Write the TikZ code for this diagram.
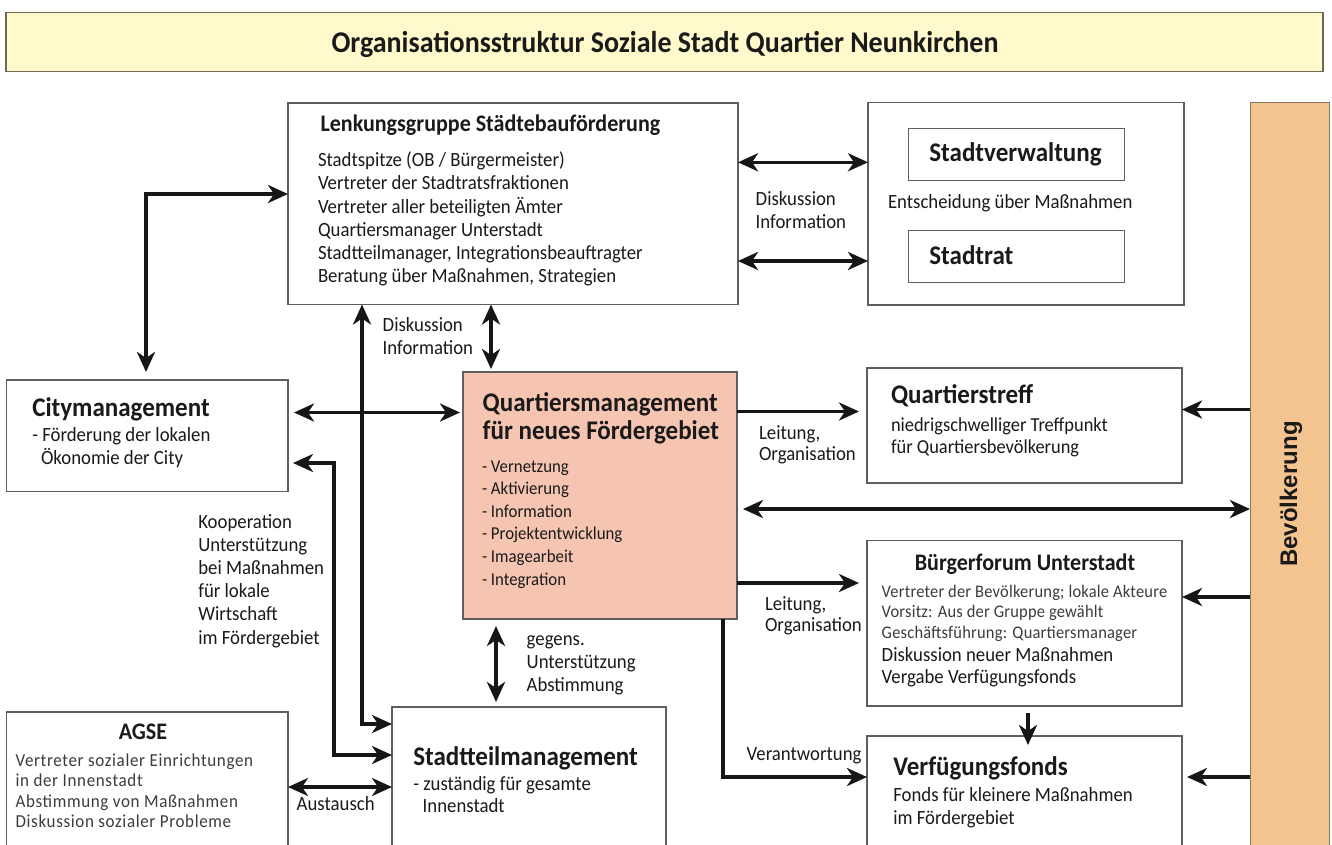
\documentclass[tikz,border=0pt]{standalone}
\usepackage{fontspec}
\setmainfont{Carlito}[FakeStretch=0.93]
\newfontfamily\barfont{Liberation Sans}
\newfontfamily\wideA{Carlito}[FakeStretch=0.93, LetterSpace=3.5]
\newfontfamily\wideB{Carlito}[FakeStretch=0.93, LetterSpace=1.2]
\usetikzlibrary{arrows.meta}

\definecolor{boxgray}{HTML}{5E5E5E}
\definecolor{txtcol}{HTML}{1A1A1A}
\definecolor{lightcol}{HTML}{3C3C3C}
\definecolor{bannerfill}{HTML}{FFF9CC}
\definecolor{bannerline}{HTML}{6E6A55}
\definecolor{qmfill}{HTML}{F5C5B2}
\definecolor{barfill}{HTML}{F4C490}
\definecolor{barline}{HTML}{8A7560}
\definecolor{arrowcol}{HTML}{161616}

\newcommand\titlefs{\fontsize{30.1}{32}\selectfont\bfseries}
\newcommand\headfs{\fontsize{26.9}{28}\selectfont\bfseries}
\newcommand\subheadfs{\fontsize{23.7}{26}\selectfont\bfseries}
\newcommand\bodyfs{\fontsize{20.2}{23.2}\selectfont}
\newcommand\itemfs{\fontsize{18.1}{22.6}\selectfont}
\newcommand\treffs{\fontsize{19.8}{22}\selectfont}
\newcommand\agsefs{\wideA\fontsize{18.3}{20.5}\selectfont}
\newcommand\forumfs{\wideB\fontsize{17.7}{20.5}\selectfont}

% multi-line nodes are placed by the baseline of their last line
\tikzset{
  box/.style={draw=boxgray, line width=1.2pt, fill=white, inner sep=0pt,
    outer sep=0pt, anchor=north west},
  txt/.style={inner sep=0pt, outer sep=0pt, anchor=base west, align=left,
    font=\bodyfs, text=txtcol},
  conn/.style={draw=arrowcol, line width=3.4pt},
  tip/.tip={Stealth[length=20pt,width=18pt,inset=6pt]},
  arr/.style={conn, -tip},
  dbl/.style={conn, tip-tip},
}

\begin{document}
\begin{tikzpicture}[x=1pt,y=-1pt]
\clip (0,0) rectangle (1332,844);
\fill[white] (0,0) rectangle (1332,844);

% title banner
\node[box, draw=bannerline, fill=bannerfill, minimum width=1317pt, minimum height=59pt] (banner) at (6,12.5) {};
\node[txt, anchor=base, font=\titlefs] (title) at (665,52) {Organisationsstruktur Soziale Stadt Quartier Neunkirchen};

% population bar on the right
\node[box, draw=barline, fill=barfill, line width=1pt, minimum width=79pt, minimum height=760pt] (bev) at (1250,102.5) {};
\node[rotate=90, inner sep=0pt, font=\barfont\bfseries\fontsize{24}{28}\selectfont, text=txtcol] (bevT) at (1291,494) {Bevölkerung};

% boxes
\node[box, minimum width=450pt, minimum height=201.5pt] (lenk) at (288,103) {};
\node[box, minimum width=316pt, minimum height=202.5pt] (stadt) at (868,102.5) {};
\node[box, minimum width=216pt, minimum height=52.4pt] (verw) at (908.7,128.3) {};
\node[box, minimum width=216pt, minimum height=52pt] (rat) at (908.7,230.7) {};
\node[box, minimum width=281.5pt, minimum height=111.7pt] (city) at (6.5,380) {};
\node[box, fill=qmfill, minimum width=274pt, minimum height=247pt] (quart) at (463,372) {};
\node[box, minimum width=315pt, minimum height=115pt] (treff) at (867,368) {};
\node[box, minimum width=315pt, minimum height=165.5pt] (forum) at (867,540.5) {};
\node[box, minimum width=315pt, minimum height=130pt] (verf) at (867,736) {};
\node[box, minimum width=281.5pt, minimum height=150pt] (agse) at (6.5,712) {};
\node[box, minimum width=274pt, minimum height=155pt] (stt) at (392,707) {};

% box texts
\node[txt, font=\subheadfs] (lenkH) at (320.5,131.7) {Lenkungsgruppe Städtebauförderung};
\node[txt] (lenkB) at (318,282.7) {Stadtspitze (OB / Bürgermeister)\\Vertreter der Stadtratsfraktionen\\Vertreter aller beteiligten Ämter\\Quartiersmanager Unterstadt\\Stadtteilmanager, Integrationsbeauftragter\\Beratung über Maßnahmen, Strategien};

\node[txt, font=\headfs] (verwT) at (929.4,161.7) {Stadtverwaltung};
\node[txt, font=\headfs] (ratT) at (929.4,264) {Stadtrat};
\node[txt] (stadtB) at (888,208) {Entscheidung über Maßnahmen};

\node[txt, font=\headfs] (cityH) at (32.3,416) {Citymanagement};
\node[txt] (cityB1) at (32.3,441.7) {- Förderung der lokalen};
\node[txt] (cityB2) at (41,464) {Ökonomie der City};

\node[txt, font=\headfs] (quartH) at (482.7,439) {Quartiersmanagement\\für neues Fördergebiet};
\node[txt, font=\itemfs] (quartB) at (482,585) {- Vernetzung\\- Aktivierung\\- Information\\- Projektentwicklung\\- Imagearbeit\\- Integration};

\node[txt, font=\headfs] (treffH) at (891,403) {Quartierstreff};
\node[txt, font=\treffs] (treffB) at (891,453) {niedrigschwelliger Treffpunkt\\für Quartiersbevölkerung};

\node[txt, anchor=base, font=\subheadfs] (forumH) at (1025,570) {Bürgerforum Unterstadt};
\node[txt, font=\forumfs, text=lightcol] (forumB1) at (881.7,638.3) {Vertreter der Bevölkerung; lokale Akteure\\Vorsitz: Aus der Gruppe gewählt\\Geschäftsführung: Quartiersmanager};
\node[txt] (forumB2) at (881.7,683.3) {Diskussion neuer Maßnahmen\\[-1.5pt]Vergabe Verfügungsfonds};

\node[txt, font=\headfs] (verfH) at (893.3,775) {Verfügungsfonds};
\node[txt] (verfB) at (893.3,824.5) {Fonds für kleinere Maßnahmen\\im Fördergebiet};

\node[txt, anchor=base, font=\subheadfs] (agseH) at (143,739) {AGSE};
\node[txt, font=\agsefs, text=lightcol] (agseB) at (15.6,827.5) {Vertreter sozialer Einrichtungen\\in der Innenstadt\\Abstimmung von Maßnahmen\\Diskussion sozialer Probleme};

\node[txt, font=\headfs] (sttH) at (413.3,765) {Stadtteilmanagement};
\node[txt] (sttB1) at (413.3,790.7) {- zuständig für gesamte};
\node[txt] (sttB2) at (422.7,812.7) {Innenstadt};

% connector labels
\node[txt] (lDisk1) at (755.7,228.3) {Diskussion\\[-0.6pt]Information};
\node[txt] (lDisk2) at (382.7,354) {Diskussion\\[-0.6pt]Information};
\node[txt] (lLeit1) at (759,460.7) {Leitung,\\[-1.5pt]Organisation};
\node[txt] (lLeit2) at (765,631.7) {Leitung,\\[-1.5pt]Organisation};
\node[txt] (lVer) at (746.7,760) {Verantwortung};
\node[txt] (lGeg) at (526.7,691.4) {gegens.\\Unterstützung\\Abstimmung};
\node[txt] (lAus) at (296.7,810) {Austausch};
\node[txt] (lKoop) at (198.3,644) {Kooperation\\Unterstützung\\bei Maßnahmen\\für lokale\\Wirtschaft\\im Fördergebiet};

% routing points
\coordinate (pCity) at (146,194);
\coordinate (pS1) at (0,162.3);
\coordinate (pS2) at (0,261);
\coordinate (pLong) at (362,724);
\coordinate (pKoopA) at (334,463);
\coordinate (pKoopB) at (334,755);
\coordinate (pCQ) at (0,412.5);
\coordinate (pLQ) at (491,0);
\coordinate (pTreff) at (0,411.5);
\coordinate (pBev) at (0,509);
\coordinate (pForum) at (0,583);
\coordinate (pVerf) at (723,777);
\coordinate (pQS) at (496,0);
\coordinate (pAus) at (0,787);
\coordinate (pFV) at (1028,0);
\coordinate (pB1) at (0,409.5);
\coordinate (pB2) at (0,597);
\coordinate (pB3) at (0,777);

% connectors
\draw[dbl, shorten <=8pt] (city.north -| pCity) |- (lenk.west |- pCity);
\draw[dbl] (lenk.east |- pS1) -- (stadt.west |- pS1);
\draw[dbl] (lenk.east |- pS2) -- (stadt.west |- pS2);
\draw[dbl] (lenk.south -| pLong) |- (stt.west |- pLong);
\draw[dbl, shorten <=5pt] (city.east |- pKoopA) -| (pKoopB) -- (stt.west |- pKoopB);
\draw[dbl, shorten <=6pt, shorten >=3pt] (city.east |- pCQ) -- (quart.west |- pCQ);
\draw[dbl, shorten >=3pt] (lenk.south -| pLQ) -- (quart.north -| pLQ);
\draw[arr, shorten >=8pt] (quart.east |- pTreff) -- (treff.west |- pTreff);
\draw[dbl, shorten <=6pt] (quart.east |- pBev) -- (bev.west |- pBev);
\draw[arr, shorten >=8pt] (quart.east |- pForum) -- (forum.west |- pForum);
\draw[arr] (quart.south -| pVerf) |- (verf.west |- pVerf);
\draw[dbl, shorten <=7pt, shorten >=5pt] (quart.south -| pQS) -- (stt.north -| pQS);
\draw[dbl] (agse.east |- pAus) -- (stt.west |- pAus);
\draw[arr, shorten <=7pt, shorten >=-9pt] (forum.south -| pFV) -- (verf.north -| pFV);
\draw[arr] (bev.west |- pB1) -- (treff.east |- pB1);
\draw[arr] (bev.west |- pB2) -- (forum.east |- pB2);
\draw[arr, shorten >=5pt] (bev.west |- pB3) -- (verf.east |- pB3);
\end{tikzpicture}
\end{document}
